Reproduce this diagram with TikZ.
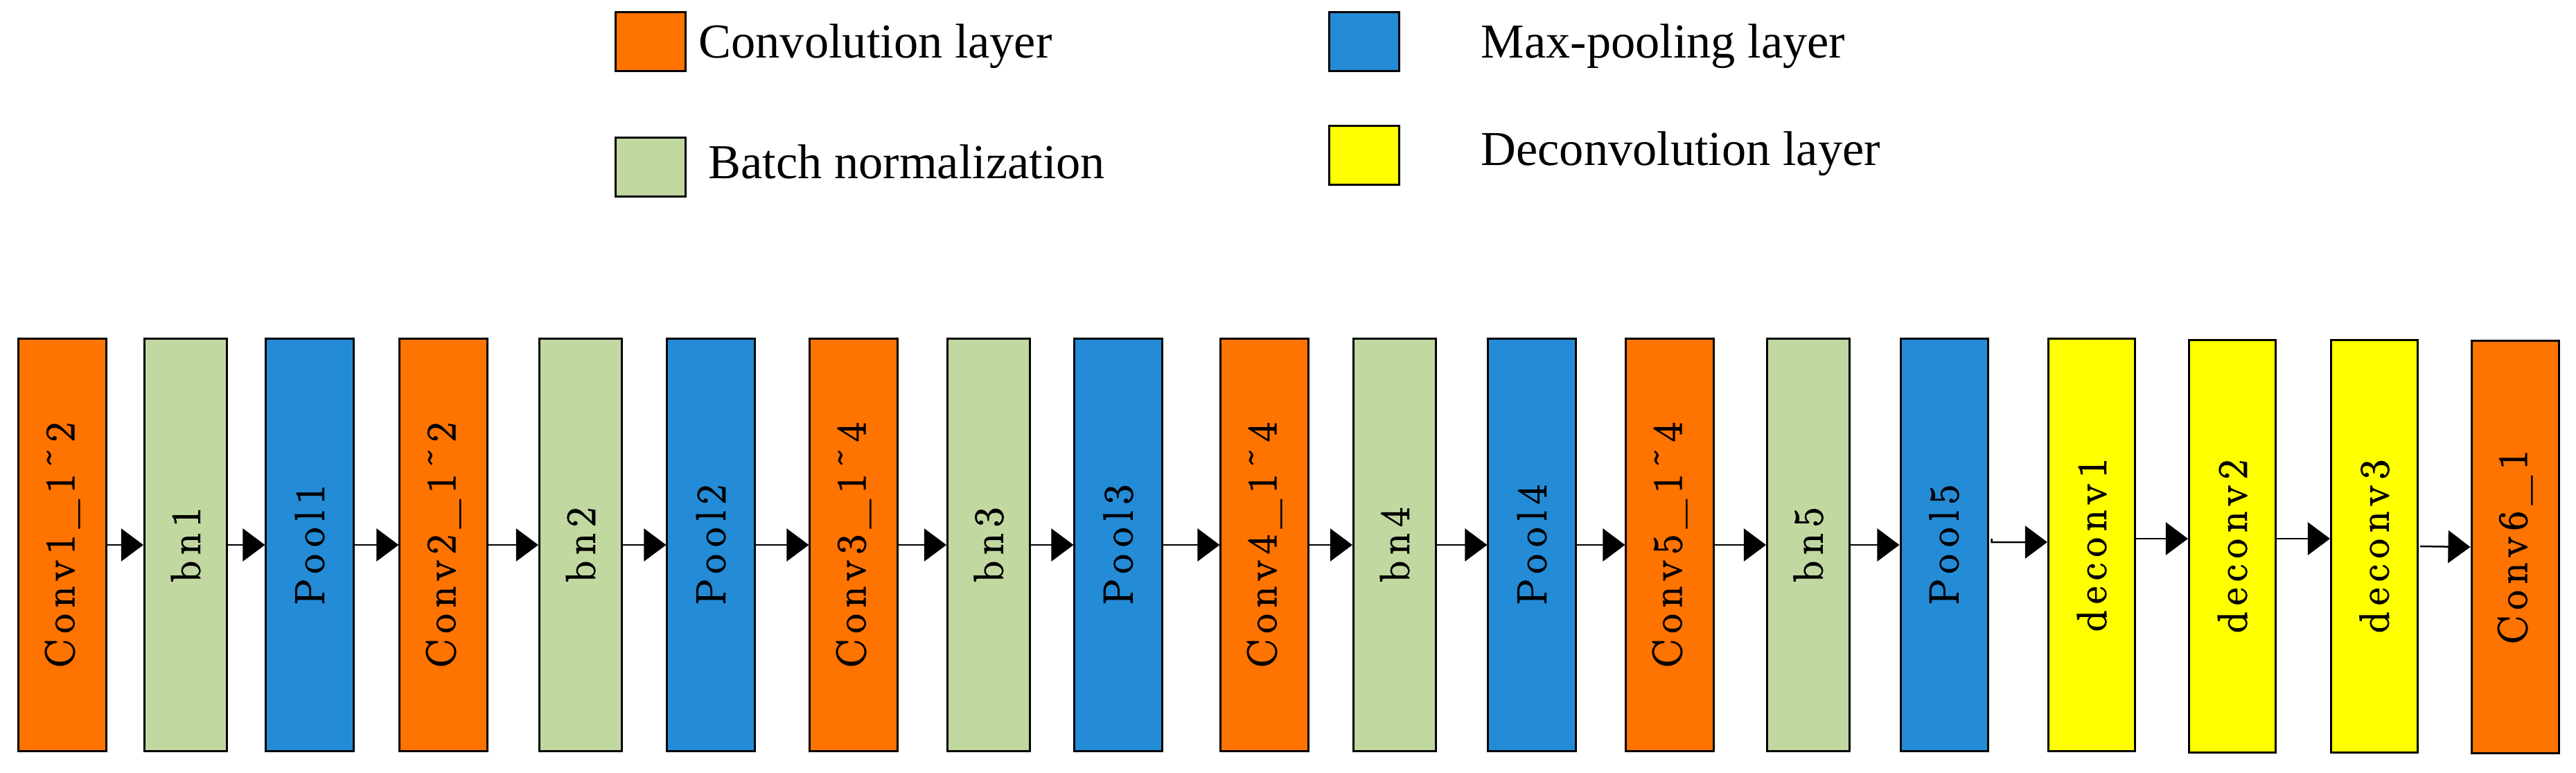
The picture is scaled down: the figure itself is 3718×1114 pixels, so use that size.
\documentclass[tikz,border=0pt]{standalone}
\usepackage{fontspec}
\usetikzlibrary{arrows.meta}
\newfontfamily\legfont{Liberation Serif}
\newfontfamily\boxfont[LetterSpace=16,FakeBold=2.5]{Latin Modern Roman}
\definecolor{convcol}{RGB}{255,115,0}
\definecolor{bncol}{RGB}{193,216,161}
\definecolor{poolcol}{RGB}{36,139,214}
\definecolor{deconvcol}{RGB}{255,255,0}
\newcommand{\vlabel}[1]{\rotatebox{90}{\boxfont\fontsize{17pt}{20pt}\selectfont #1}}
\newcommand{\rtilde}{{\char"02DC}}

\begin{document}
\begin{tikzpicture}[x=0.01cm,y=-0.01cm,
    layer/.style={draw,line width=0.03cm,minimum height=5.94cm,inner sep=0pt},
    conv/.style={layer,fill=convcol,minimum width=1.26cm},
    bn/.style={layer,fill=bncol,minimum width=1.19cm},
    pool/.style={layer,fill=poolcol,minimum width=1.26cm},
    deconv/.style={layer,fill=deconvcol,minimum width=1.25cm},
    legbox/.style={draw,line width=0.03cm,minimum width=1cm,minimum height=0.84cm,inner sep=0pt},
    legtext/.style={anchor=base west,inner sep=0pt,font=\legfont\fontsize{20pt}{24pt}\selectfont},
    flow/.style={line width=0.025cm,-{Triangle[length=0.32cm,width=0.47cm]}}]
  \useasboundingbox (0,0) rectangle (3718,1114);
  % legend
  \node[legbox,fill=convcol] (lconv) at (939,60) {};
  \node[legtext] (tconv) at (1008,83) {Convolution layer};
  \node[legbox,fill=bncol] (lbn) at (939,241) {};
  \node[legtext] (tbn) at (1022,257) {Batch normalization};
  \node[legbox,fill=poolcol] (lpool) at (1969,60) {};
  \node[legtext] (tpool) at (2137,83) {Max-pooling layer};
  \node[legbox,fill=deconvcol] (ldeconv) at (1969,224) {};
  \node[legtext] (tdeconv) at (2137,238) {Deconvolution layer};
  % network
  \node[conv] (c1) at (90,786) {\vlabel{Conv1\_1\rtilde2}};
  \node[bn] (b1) at (268,786) {\vlabel{bn1}};
  \node[pool] (p1) at (447,786) {\vlabel{Pool1}};
  \node[conv] (c2) at (640,786) {\vlabel{Conv2\_1\rtilde2}};
  \node[bn] (b2) at (838,786) {\vlabel{bn2}};
  \node[pool] (p2) at (1026,786) {\vlabel{Pool2}};
  \node[conv] (c3) at (1232,786) {\vlabel{Conv3\_1\rtilde4}};
  \node[bn] (b3) at (1427,786) {\vlabel{bn3}};
  \node[pool] (p3) at (1614,786) {\vlabel{Pool3}};
  \node[conv] (c4) at (1825,786) {\vlabel{Conv4\_1\rtilde4}};
  \node[bn] (b4) at (2013,786) {\vlabel{bn4}};
  \node[pool] (p4) at (2211,786) {\vlabel{Pool4}};
  \node[conv] (c5) at (2410,786) {\vlabel{Conv5\_1\rtilde4}};
  \node[bn] (b5) at (2610,786) {\vlabel{bn5}};
  \node[pool] (p5) at (2806,786) {\vlabel{Pool5}};
  \node[deconv] (d1) at (3019,786) {\vlabel{deconv1}};
  \node[deconv] (d2) at (3222,788) {\vlabel{deconv2}};
  \node[deconv] (d3) at (3427,788) {\vlabel{deconv3}};
  \node[conv] (c6) at (3630,789) {\vlabel{Conv6\_1}};
  \foreach \a/\b in {c1/b1,b1/p1,p1/c2,c2/b2,b2/p2,p2/c3,c3/b3,b3/p3,p3/c4,c4/b4,b4/p4,p4/c5,c5/b5,b5/p5}
    \draw[flow] (\a.east) -- (\b.west);
  \draw[flow] ([xshift=0.04cm,yshift=0.09cm]p5.east) -- ++(0,-0.05cm) -- ([yshift=0.04cm]d1.west);
  \draw[flow] ([yshift=0.09cm]d1.east) -- ([yshift=0.09cm]d1.east -| d2.west);
  \draw[flow] ([yshift=0.11cm]d2.east) -- ([yshift=0.11cm]d2.east -| d3.west);
  \draw[flow] ([xshift=0.02cm]d3.east) -- (c6.west);
\end{tikzpicture}
\end{document}
